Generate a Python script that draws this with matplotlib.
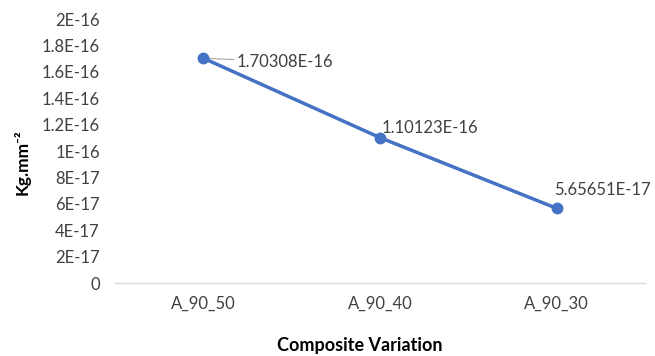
import matplotlib
matplotlib.use("Agg")
import matplotlib.pyplot as plt

categories = ["A_90_50", "A_90_40", "A_90_30"]
values = [1.70308e-16, 1.10123e-16, 5.65651e-17]
labels = ["1.70308E-16", "1.10123E-16", "5.65651E-17"]
yticks = [0, 2e-17, 4e-17, 6e-17, 8e-17, 1e-16, 1.2e-16, 1.4e-16, 1.6e-16, 1.8e-16, 2e-16]
ytick_labels = ["0", "2E-17", "4E-17", "6E-17", "8E-17", "1E-16", "1.2E-16", "1.4E-16", "1.6E-16", "1.8E-16", "2E-16"]

plt.rcParams['font.family'] = ['Lato', 'DejaVu Sans']

fig = plt.figure(figsize=(6.55, 3.56), dpi=100)
ax = fig.add_axes([115/655, 1-283/356, 530/655, 264/356])

x = list(range(len(categories)))
ax.plot(x, values, color="#4472C4", linewidth=2.5, marker="o", markersize=7.5, zorder=3)

FS = 12
ax.set_xlim(-0.5, 2.5)
ax.set_ylim(0, 2e-16)
ax.set_yticks(yticks)
ax.set_yticklabels(ytick_labels, fontsize=FS, color="#404040")
ax.set_xticks(x)
ax.set_xticklabels(categories, fontsize=FS, color="#404040")
ax.tick_params(axis="both", length=0)
ax.tick_params(axis="y", pad=11)
ax.tick_params(axis="x", pad=9)

for s in ["top", "right", "left"]:
    ax.spines[s].set_visible(False)
ax.spines["bottom"].set_color("#D9D9D9")
ax.spines["bottom"].set_linewidth(1)

# data labels
offsets = [(24, -3), (1.5, 7), (-2, 13)]
for i, (v, lab) in enumerate(zip(values, labels)):
    dx, dy = offsets[i]
    ax.annotate(lab, xy=(i, v), xytext=(dx, dy), textcoords="offset points",
                fontsize=FS, color="#404040", ha="left", va="center")
# leader line for first label
ax.annotate("", xy=(0, values[0]), xytext=(22, -1), textcoords="offset points",
            arrowprops=dict(arrowstyle="-", color="#A6A6A6", lw=0.8, shrinkA=0, shrinkB=0), zorder=2)

fig.text(22/655, 1-162/356, "Kg.mm\u207b\u00b2", rotation=90, fontsize=12.5, fontweight="bold",
         ha="center", va="center", color="#000000")
fig.text(360/655, 1-345/356, "Composite Variation", fontsize=13, fontweight="bold",
         ha="center", va="center", color="#000000")

fig.savefig("out.png", dpi=100)
